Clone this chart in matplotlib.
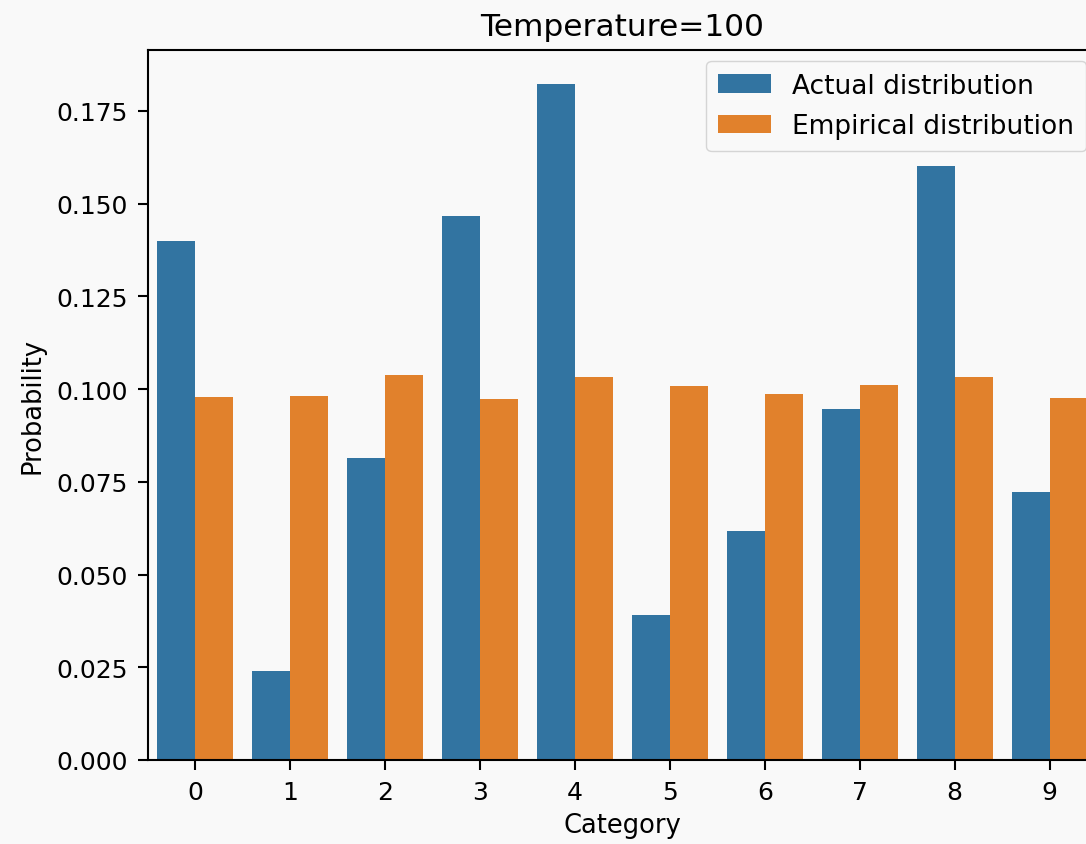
import numpy as np
import matplotlib
matplotlib.use("Agg")
import matplotlib.pyplot as plt

categories = ["0", "1", "2", "3", "4", "5", "6", "7", "8", "9"]
actual = [0.1400, 0.0240, 0.0814, 0.1467, 0.1823, 0.0391, 0.0618, 0.0947, 0.1602, 0.0723]
empirical = [0.0979, 0.0982, 0.1038, 0.0974, 0.1033, 0.1009, 0.0987, 0.1011, 0.1033, 0.0976]
series_names = ["Actual distribution", "Empirical distribution"]
colors = ["#3274a1", "#e1812c"]

W, H = 1086, 845
bg = "#f9f9f9"
plt.rcParams["font.size"] = 18.5

fig = plt.figure(figsize=(W / 100, H / 100), dpi=100, facecolor=bg)
# axes box in pixels: left 148, right 1097, bottom 761, top 51
ax = fig.add_axes([148 / W, (H - 761) / H, (1097 - 148) / W, (761 - 51) / H])
ax.set_facecolor(bg)
for s in ax.spines.values():
    s.set_linewidth(1.5)

x = np.arange(len(categories))
bw = 0.4
ax.bar(x - bw / 2, actual, width=bw, color=colors[0], label=series_names[0])
ax.bar(x + bw / 2, empirical, width=bw, color=colors[1], label=series_names[1])

ax.set_xlim(-0.5, len(categories) - 0.5)
ax.set_ylim(0, max(actual) * 1.05)
ax.set_xticks(x)
ax.set_xticklabels(categories)
ax.set_yticks(np.arange(0, 0.176, 0.025))
ax.yaxis.set_major_formatter(matplotlib.ticker.FormatStrFormatter("%.3f"))
ax.tick_params(labelsize=18, length=7, width=1.5, pad=7.5)
ax.set_xlabel("Category", labelpad=6)
ax.set_ylabel("Probability", labelpad=8)
ax.set_title("Temperature=100", fontsize=22.5, pad=11)
leg = ax.legend(loc="upper right", bbox_to_anchor=(1086 / W, (H - 62) / H),
                bbox_transform=fig.transFigure, borderaxespad=0, fontsize=19,
                handlelength=2.0, borderpad=0.45, labelspacing=0.55)
leg.get_frame().set_facecolor(bg)

fig.savefig("out.png", dpi=100, facecolor=bg)
